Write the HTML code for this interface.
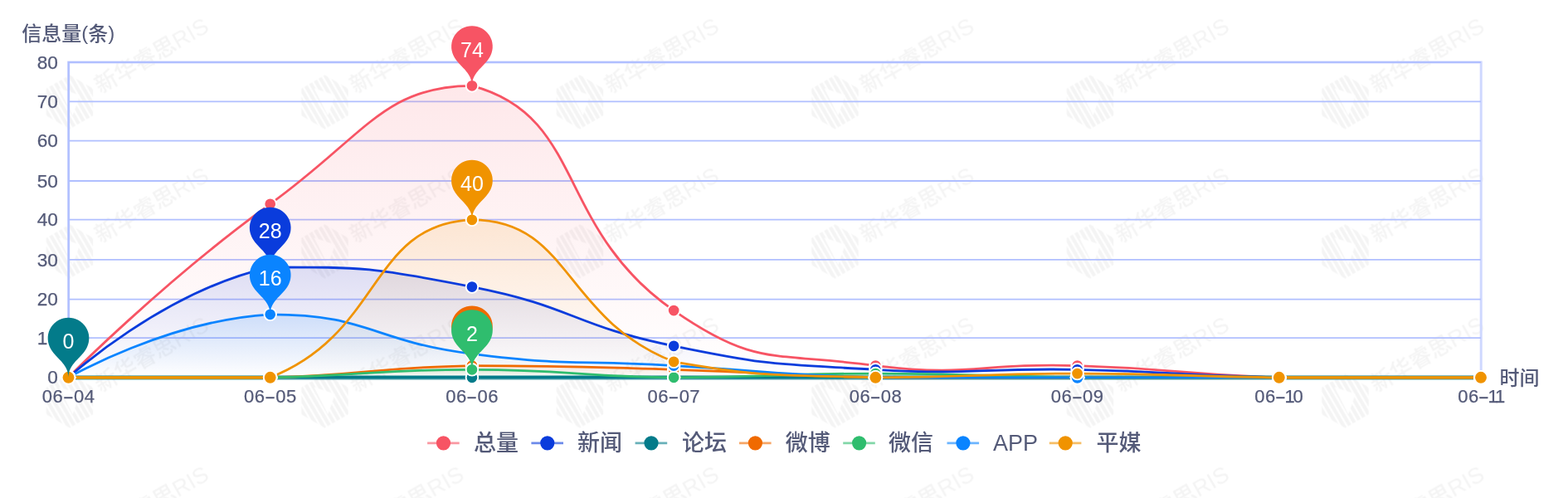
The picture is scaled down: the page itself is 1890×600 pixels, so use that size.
<!DOCTYPE html>
<html lang="zh-CN"><head><meta charset="utf-8"><title>信息量趋势</title>
<style>
html,body{margin:0;padding:0;background:#fff;}
body{width:1890px;height:600px;overflow:hidden;font-family:"Liberation Sans","Noto Sans CJK SC",sans-serif;}
svg{display:block;filter:blur(0.45px);}
svg text{font-family:"Liberation Sans","Noto Sans CJK SC",sans-serif;}
</style></head><body>
<svg width="1890" height="600" viewBox="0 0 1890 600">
<defs>
<linearGradient id="g0" x1="0" y1="0" x2="0" y2="1"><stop offset="0" stop-color="#f75464" stop-opacity="0.135"/><stop offset="1" stop-color="#f75464" stop-opacity="0"/></linearGradient>
<linearGradient id="g1" x1="0" y1="0" x2="0" y2="1"><stop offset="0" stop-color="#0a3cdc" stop-opacity="0.135"/><stop offset="1" stop-color="#0a3cdc" stop-opacity="0"/></linearGradient>
<linearGradient id="g2" x1="0" y1="0" x2="0" y2="1"><stop offset="0" stop-color="#037b8a" stop-opacity="0.135"/><stop offset="1" stop-color="#037b8a" stop-opacity="0"/></linearGradient>
<linearGradient id="g3" x1="0" y1="0" x2="0" y2="1"><stop offset="0" stop-color="#f06a00" stop-opacity="0.135"/><stop offset="1" stop-color="#f06a00" stop-opacity="0"/></linearGradient>
<linearGradient id="g4" x1="0" y1="0" x2="0" y2="1"><stop offset="0" stop-color="#2fbd6e" stop-opacity="0.135"/><stop offset="1" stop-color="#2fbd6e" stop-opacity="0"/></linearGradient>
<linearGradient id="g5" x1="0" y1="0" x2="0" y2="1"><stop offset="0" stop-color="#0a84ff" stop-opacity="0.135"/><stop offset="1" stop-color="#0a84ff" stop-opacity="0"/></linearGradient>
<linearGradient id="g6" x1="0" y1="0" x2="0" y2="1"><stop offset="0" stop-color="#f09300" stop-opacity="0.135"/><stop offset="1" stop-color="#f09300" stop-opacity="0"/></linearGradient>
<clipPath id="hx"><path clip-rule="evenodd" d="M32.5 0 L16.25 28.15 L-16.25 28.15 L-32.5 0 L-16.25 -28.15 L16.25 -28.15 Z M-3 -21 L15 -1 L-5 16 Z"/></clipPath>
<pattern id="wm" x="0.4" y="-7.5" width="307.5" height="180" patternUnits="userSpaceOnUse">
<g transform="translate(83.6,130.5) rotate(-30)" fill="#000" fill-opacity="0.043">
<g clip-path="url(#hx)">
<rect x="-32" y="-34" width="4.2" height="68"/>
<rect x="-25.4" y="-34" width="4.2" height="68"/>
<rect x="-18.8" y="-34" width="4.2" height="68"/>
<rect x="-12.2" y="-34" width="4.2" height="68"/>
<rect x="-5.6" y="-34" width="4.2" height="68"/>
<rect x="1" y="-34" width="4.2" height="68"/>
<rect x="7.6" y="-34" width="4.2" height="68"/>
<rect x="14.2" y="-34" width="4.2" height="68"/>
<rect x="20.8" y="-34" width="4.2" height="68"/>
<rect x="27.4" y="-34" width="4.2" height="68"/>
</g>
<text x="37" y="10" font-size="27" font-weight="500" textLength="153" lengthAdjust="spacingAndGlyphs">新华睿思RIS</text>
</g></pattern>
</defs>
<rect width="1890" height="600" fill="#fff"/>
<rect width="1890" height="600" fill="url(#wm)"/>
<rect x="82.7" y="75" width="1702.5" height="379.5" fill="none" stroke="#cfd8ff" stroke-width="3"/>
<g fill="none" stroke="#b0bfff" stroke-width="1.8">
<line x1="82.5" y1="407.2" x2="1785" y2="407.2"/>
<line x1="82.5" y1="360.6" x2="1785" y2="360.6"/>
<line x1="82.5" y1="312.8" x2="1785" y2="312.8"/>
<line x1="82.5" y1="264.6" x2="1785" y2="264.6"/>
<line x1="82.5" y1="218" x2="1785" y2="218"/>
<line x1="82.5" y1="169.6" x2="1785" y2="169.6"/>
<line x1="82.5" y1="122.3" x2="1785" y2="122.3"/>
<line x1="82.5" y1="75" x2="1785" y2="75"/>
</g>
<line x1="82.7" y1="74" x2="82.7" y2="455" stroke="#b0bfff" stroke-width="2.2"/>
<g fill="#545a78" font-size="22.3" stroke="#545a78" stroke-width="0.25">
<text x="57.3" y="462.3" textLength="12.6" lengthAdjust="spacingAndGlyphs">0</text>
<text x="44.7" y="415" textLength="25.2" lengthAdjust="spacingAndGlyphs">10</text>
<text x="44.7" y="368.4" textLength="25.2" lengthAdjust="spacingAndGlyphs">20</text>
<text x="44.7" y="320.6" textLength="25.2" lengthAdjust="spacingAndGlyphs">30</text>
<text x="44.7" y="272.4" textLength="25.2" lengthAdjust="spacingAndGlyphs">40</text>
<text x="44.7" y="225.8" textLength="25.2" lengthAdjust="spacingAndGlyphs">50</text>
<text x="44.7" y="177.4" textLength="25.2" lengthAdjust="spacingAndGlyphs">60</text>
<text x="44.7" y="130.1" textLength="25.2" lengthAdjust="spacingAndGlyphs">70</text>
<text x="44.7" y="82.8" textLength="25.2" lengthAdjust="spacingAndGlyphs">80</text>
</g>
<g fill="#545a78" font-size="22" letter-spacing="0.5" stroke="#545a78" stroke-width="0.25">
<text y="484.5"><tspan x="50.8">06</tspan><tspan x="75.7" textLength="14.1" lengthAdjust="spacingAndGlyphs">-</tspan><tspan x="89">04</tspan></text>
<text y="484.5"><tspan x="294.01">06</tspan><tspan x="318.91" textLength="14.1" lengthAdjust="spacingAndGlyphs">-</tspan><tspan x="332.21">05</tspan></text>
<text y="484.5"><tspan x="537.23">06</tspan><tspan x="562.13" textLength="14.1" lengthAdjust="spacingAndGlyphs">-</tspan><tspan x="575.43">06</tspan></text>
<text y="484.5"><tspan x="780.44">06</tspan><tspan x="805.34" textLength="14.1" lengthAdjust="spacingAndGlyphs">-</tspan><tspan x="818.64">07</tspan></text>
<text y="484.5"><tspan x="1023.66">06</tspan><tspan x="1048.56" textLength="14.1" lengthAdjust="spacingAndGlyphs">-</tspan><tspan x="1061.86">08</tspan></text>
<text y="484.5"><tspan x="1266.87">06</tspan><tspan x="1291.77" textLength="14.1" lengthAdjust="spacingAndGlyphs">-</tspan><tspan x="1305.07">09</tspan></text>
<text y="484.5"><tspan x="1512.19">06</tspan><tspan x="1536.84" textLength="14.1" lengthAdjust="spacingAndGlyphs">-</tspan><tspan x="1548.59">1</tspan><tspan x="1558.59">0</tspan></text>
<text y="484.5"><tspan x="1757.2">06</tspan><tspan x="1781.85" textLength="14.1" lengthAdjust="spacingAndGlyphs">-</tspan><tspan x="1793.6">1</tspan><tspan x="1802.1">1</tspan></text>
</g>
<g fill="#545a78" font-size="24" font-weight="500">
<text x="26.2" y="49">信息量<tspan dy="-1.5">(</tspan><tspan dy="1.5">条</tspan><tspan dy="-1.5">)</tspan></text>
<text x="1807.5" y="464">时间</text>
</g>
<path d="M82.5 454.8C82.5 454.8 196.28 339.33 325.71 245.8C439.49 163.58 462.77 103.3 568.93 103.3C705.99 139.44 668.47 274.44 812.14 374.05C911.68 443.06 931.56 423.63 1055.36 440.55C1174.77 454.8 1177.07 436.99 1298.57 440.55C1420.28 444.12 1420.07 451.23 1541.79 454.8C1663.29 454.8 1785 454.8 1785 454.8L1785 454.8 L82.5 454.8 Z" fill="url(#g0)"/>
<path d="M82.5 454.8C82.5 454.8 196.45 350.83 325.71 321.8C439.67 321.8 449.54 322.23 568.93 345.55C692.75 369.73 688.45 391.43 812.14 416.8C931.66 441.31 933.34 438.15 1055.36 445.3C1176.55 452.4 1177.01 442.93 1298.57 445.3C1420.22 447.68 1420.13 452.42 1541.79 454.8C1663.35 454.8 1785 454.8 1785 454.8L1785 454.8 L82.5 454.8 Z" fill="url(#g1)"/>
<path d="M82.5 454.8C82.5 454.8 204.21 454.8 325.71 454.8C447.43 451.23 447.23 442.93 568.93 440.55C690.44 440.55 690.57 441.74 812.14 445.3C933.78 448.86 933.7 452.42 1055.36 454.8C1176.92 454.8 1176.96 454.8 1298.57 454.8C1420.18 454.8 1420.18 454.8 1541.79 454.8C1663.39 454.8 1785 454.8 1785 454.8L1785 454.8 L82.5 454.8 Z" fill="url(#g3)"/>
<path d="M82.5 454.8C82.5 454.8 204.15 454.8 325.71 454.8C447.37 452.42 447.32 445.3 568.93 445.3C690.54 445.3 690.5 453.61 812.14 454.8C933.72 454.8 933.75 450.05 1055.36 450.05C1176.96 450.05 1176.95 453.61 1298.57 454.8C1420.17 454.8 1420.18 454.8 1541.79 454.8C1663.39 454.8 1785 454.8 1785 454.8L1785 454.8 L82.5 454.8 Z" fill="url(#g4)"/>
<path d="M82.5 454.8C82.5 454.8 202.41 386.02 325.71 378.8C445.63 378.8 446.29 410.73 568.93 426.3C689.5 441.61 690.54 433.43 812.14 440.55C933.75 447.68 933.65 451.23 1055.36 454.8C1176.86 454.8 1176.96 454.8 1298.57 454.8C1420.18 454.8 1420.18 454.8 1541.79 454.8C1663.39 454.8 1785 454.8 1785 454.8L1785 454.8 L82.5 454.8 Z" fill="url(#g5)"/>
<path d="M82.5 454.8C82.5 454.8 218.52 454.8 325.71 454.8C461.74 401.67 445.05 269.64 568.93 264.8C688.26 264.8 678.55 383.62 812.14 435.8C921.76 454.8 933.58 451.23 1055.36 454.8C1176.79 454.8 1176.96 450.05 1298.57 450.05C1420.18 450.05 1420.17 453.61 1541.79 454.8C1663.38 454.8 1785 454.8 1785 454.8L1785 454.8 L82.5 454.8 Z" fill="url(#g6)"/>
<path d="M82.5 454.8C82.5 454.8 196.28 339.33 325.71 245.8C439.49 163.58 462.77 103.3 568.93 103.3C705.99 139.44 668.47 274.44 812.14 374.05C911.68 443.06 931.56 423.63 1055.36 440.55C1174.77 454.8 1177.07 436.99 1298.57 440.55C1420.28 444.12 1420.07 451.23 1541.79 454.8C1663.29 454.8 1785 454.8 1785 454.8" fill="none" stroke="#f75464" stroke-width="2.8" stroke-linejoin="round"/>
<path d="M82.5 454.8C82.5 454.8 196.45 350.83 325.71 321.8C439.67 321.8 449.54 322.23 568.93 345.55C692.75 369.73 688.45 391.43 812.14 416.8C931.66 441.31 933.34 438.15 1055.36 445.3C1176.55 452.4 1177.01 442.93 1298.57 445.3C1420.22 447.68 1420.13 452.42 1541.79 454.8C1663.35 454.8 1785 454.8 1785 454.8" fill="none" stroke="#0a3cdc" stroke-width="2.8" stroke-linejoin="round"/>
<path d="M82.5 454.8C82.5 454.8 204.11 454.8 325.71 454.8C447.32 454.8 447.32 454.8 568.93 454.8C690.54 454.8 690.54 454.8 812.14 454.8C933.75 454.8 933.75 454.8 1055.36 454.8C1176.96 454.8 1176.96 454.8 1298.57 454.8C1420.18 454.8 1420.18 454.8 1541.79 454.8C1663.39 454.8 1785 454.8 1785 454.8" fill="none" stroke="#037b8a" stroke-width="5.8" stroke-opacity="0.5"/>
<path d="M82.5 454.8C82.5 454.8 204.11 454.8 325.71 454.8C447.32 454.8 447.32 454.8 568.93 454.8C690.54 454.8 690.54 454.8 812.14 454.8C933.75 454.8 933.75 454.8 1055.36 454.8C1176.96 454.8 1176.96 454.8 1298.57 454.8C1420.18 454.8 1420.18 454.8 1541.79 454.8C1663.39 454.8 1785 454.8 1785 454.8" fill="none" stroke="#037b8a" stroke-width="3.4" stroke-linejoin="round"/>
<path d="M82.5 454.8C82.5 454.8 204.21 454.8 325.71 454.8C447.43 451.23 447.23 442.93 568.93 440.55C690.44 440.55 690.57 441.74 812.14 445.3C933.78 448.86 933.7 452.42 1055.36 454.8C1176.92 454.8 1176.96 454.8 1298.57 454.8C1420.18 454.8 1420.18 454.8 1541.79 454.8C1663.39 454.8 1785 454.8 1785 454.8" fill="none" stroke="#f06a00" stroke-width="2.8" stroke-linejoin="round"/>
<path d="M82.5 454.8C82.5 454.8 204.15 454.8 325.71 454.8C447.37 452.42 447.32 445.3 568.93 445.3C690.54 445.3 690.5 453.61 812.14 454.8C933.72 454.8 933.75 450.05 1055.36 450.05C1176.96 450.05 1176.95 453.61 1298.57 454.8C1420.17 454.8 1420.18 454.8 1541.79 454.8C1663.39 454.8 1785 454.8 1785 454.8" fill="none" stroke="#2fbd6e" stroke-width="2.8" stroke-linejoin="round"/>
<path d="M82.5 454.8C82.5 454.8 202.41 386.02 325.71 378.8C445.63 378.8 446.29 410.73 568.93 426.3C689.5 441.61 690.54 433.43 812.14 440.55C933.75 447.68 933.65 451.23 1055.36 454.8C1176.86 454.8 1176.96 454.8 1298.57 454.8C1420.18 454.8 1420.18 454.8 1541.79 454.8C1663.39 454.8 1785 454.8 1785 454.8" fill="none" stroke="#0a84ff" stroke-width="2.8" stroke-linejoin="round"/>
<path d="M82.5 454.8C82.5 454.8 218.52 454.8 325.71 454.8C461.74 401.67 445.05 269.64 568.93 264.8C688.26 264.8 678.55 383.62 812.14 435.8C921.76 454.8 933.58 451.23 1055.36 454.8C1176.79 454.8 1176.96 450.05 1298.57 450.05C1420.18 450.05 1420.17 453.61 1541.79 454.8C1663.38 454.8 1785 454.8 1785 454.8" fill="none" stroke="#f09300" stroke-width="2.8" stroke-linejoin="round"/>
<path d="M82.5 454.8H325.71 M1541.79 454.8H1785" fill="none" stroke="#f09300" stroke-width="3.3"/>
<g fill="#f75464" stroke="#fff" stroke-width="1.9">
<circle cx="82.5" cy="454.8" r="7.9"/>
<circle cx="325.71" cy="245.8" r="7.3"/>
<circle cx="568.93" cy="103.3" r="7.3"/>
<circle cx="812.14" cy="374.05" r="7.3"/>
<circle cx="1055.36" cy="440.55" r="7.3"/>
<circle cx="1298.57" cy="440.55" r="7.3"/>
<circle cx="1541.79" cy="454.8" r="7.9"/>
<circle cx="1785" cy="454.8" r="7.9"/>
</g>
<g fill="#0a3cdc" stroke="#fff" stroke-width="1.9">
<circle cx="82.5" cy="454.8" r="7.9"/>
<circle cx="325.71" cy="321.8" r="7.3"/>
<circle cx="568.93" cy="345.55" r="7.3"/>
<circle cx="812.14" cy="416.8" r="7.3"/>
<circle cx="1055.36" cy="445.3" r="7.3"/>
<circle cx="1298.57" cy="445.3" r="7.3"/>
<circle cx="1541.79" cy="454.8" r="7.9"/>
<circle cx="1785" cy="454.8" r="7.9"/>
</g>
<g fill="#037b8a" stroke="#fff" stroke-width="1.9">
<circle cx="82.5" cy="454.8" r="7.9"/>
<circle cx="325.71" cy="454.8" r="7.9"/>
<circle cx="568.93" cy="454.8" r="7.3"/>
<circle cx="812.14" cy="454.8" r="7.3"/>
<circle cx="1055.36" cy="454.8" r="7.9"/>
<circle cx="1298.57" cy="454.8" r="7.9"/>
<circle cx="1541.79" cy="454.8" r="7.9"/>
<circle cx="1785" cy="454.8" r="7.9"/>
</g>
<g fill="#f06a00" stroke="#fff" stroke-width="1.9">
<circle cx="82.5" cy="454.8" r="7.9"/>
<circle cx="325.71" cy="454.8" r="7.9"/>
<circle cx="568.93" cy="440.55" r="7.3"/>
<circle cx="812.14" cy="445.3" r="7.3"/>
<circle cx="1055.36" cy="454.8" r="7.9"/>
<circle cx="1298.57" cy="454.8" r="7.9"/>
<circle cx="1541.79" cy="454.8" r="7.9"/>
<circle cx="1785" cy="454.8" r="7.9"/>
</g>
<g fill="#2fbd6e" stroke="#fff" stroke-width="1.9">
<circle cx="82.5" cy="454.8" r="7.9"/>
<circle cx="325.71" cy="454.8" r="7.9"/>
<circle cx="568.93" cy="445.3" r="7.3"/>
<circle cx="812.14" cy="454.8" r="7.3"/>
<circle cx="1055.36" cy="450.05" r="7.3"/>
<circle cx="1298.57" cy="454.8" r="7.9"/>
<circle cx="1541.79" cy="454.8" r="7.9"/>
<circle cx="1785" cy="454.8" r="7.9"/>
</g>
<g fill="#0a84ff" stroke="#fff" stroke-width="1.9">
<circle cx="82.5" cy="454.8" r="7.9"/>
<circle cx="325.71" cy="378.8" r="7.3"/>
<circle cx="568.93" cy="426.3" r="7.3"/>
<circle cx="812.14" cy="440.55" r="7.3"/>
<circle cx="1055.36" cy="454.8" r="7.9"/>
<circle cx="1298.57" cy="454.8" r="7.9"/>
<circle cx="1541.79" cy="454.8" r="7.9"/>
<circle cx="1785" cy="454.8" r="7.9"/>
</g>
<g fill="#f09300" stroke="#fff" stroke-width="1.9">
<circle cx="82.5" cy="454.8" r="7.9"/>
<circle cx="325.71" cy="454.8" r="7.9"/>
<circle cx="568.93" cy="264.8" r="7.3"/>
<circle cx="812.14" cy="435.8" r="7.3"/>
<circle cx="1055.36" cy="454.8" r="7.9"/>
<circle cx="1298.57" cy="450.05" r="7.3"/>
<circle cx="1541.79" cy="454.8" r="7.9"/>
<circle cx="1785" cy="454.8" r="7.9"/>
</g>
<path d="M546.49 66.63A24.84 24.84 0 1 1 591.37 66.63C584.98 80.1 568.93 85.91 568.93 103.3C568.93 85.91 552.87 80.1 546.49 66.63Z" fill="#f75464"/>
<text x="568.93" y="68.71" text-anchor="middle" font-size="25" fill="#fff">74</text>
<path d="M303.27 285.13A24.84 24.84 0 1 1 348.16 285.13C341.77 298.6 325.71 304.41 325.71 321.8C325.71 304.41 309.66 298.6 303.27 285.13Z" fill="#0a3cdc"/>
<text x="325.71" y="287.21" text-anchor="middle" font-size="25" fill="#fff">28</text>
<path d="M60.06 418.13A24.84 24.84 0 1 1 104.94 418.13C98.56 431.6 82.5 437.41 82.5 454.8C82.5 437.41 66.44 431.6 60.06 418.13Z" fill="#037b8a"/>
<text x="82.5" y="420.21" text-anchor="middle" font-size="25" fill="#fff">0</text>
<path d="M546.49 403.88A24.84 24.84 0 1 1 591.37 403.88C584.98 417.35 568.93 423.16 568.93 440.55C568.93 423.16 552.87 417.35 546.49 403.88Z" fill="#f06a00"/>
<text x="568.93" y="405.96" text-anchor="middle" font-size="25" fill="#fff">3</text>
<path d="M546.49 408.63A24.84 24.84 0 1 1 591.37 408.63C584.98 422.1 568.93 427.91 568.93 445.3C568.93 427.91 552.87 422.1 546.49 408.63Z" fill="#2fbd6e"/>
<text x="568.93" y="410.71" text-anchor="middle" font-size="25" fill="#fff">2</text>
<path d="M303.27 342.13A24.84 24.84 0 1 1 348.16 342.13C341.77 355.6 325.71 361.41 325.71 378.8C325.71 361.41 309.66 355.6 303.27 342.13Z" fill="#0a84ff"/>
<text x="325.71" y="344.21" text-anchor="middle" font-size="25" fill="#fff">16</text>
<path d="M546.49 228.13A24.84 24.84 0 1 1 591.37 228.13C584.98 241.6 568.93 247.41 568.93 264.8C568.93 247.41 552.87 241.6 546.49 228.13Z" fill="#f09300"/>
<text x="568.93" y="230.21" text-anchor="middle" font-size="25" fill="#fff">40</text>
<line x1="515.1" y1="533.8" x2="553.7" y2="533.8" stroke="#f75464" stroke-width="2.7" stroke-opacity="0.6"/>
<circle cx="534.5" cy="533.8" r="8.6" fill="#f75464"/>
<text x="571" y="543.4" font-size="27" font-weight="500" fill="#545a78">总量</text>
<line x1="640.4" y1="533.8" x2="679" y2="533.8" stroke="#0a3cdc" stroke-width="2.7" stroke-opacity="0.6"/>
<circle cx="659.8" cy="533.8" r="8.6" fill="#0a3cdc"/>
<text x="696" y="543.4" font-size="27" font-weight="500" fill="#545a78">新闻</text>
<line x1="765.6" y1="533.8" x2="804.2" y2="533.8" stroke="#037b8a" stroke-width="2.7" stroke-opacity="0.6"/>
<circle cx="785" cy="533.8" r="8.6" fill="#037b8a"/>
<text x="822" y="543.4" font-size="27" font-weight="500" fill="#545a78">论坛</text>
<line x1="891" y1="533.8" x2="929.6" y2="533.8" stroke="#f06a00" stroke-width="2.7" stroke-opacity="0.6"/>
<circle cx="910.4" cy="533.8" r="8.6" fill="#f06a00"/>
<text x="946.8" y="543.4" font-size="27" font-weight="500" fill="#545a78">微博</text>
<line x1="1016.2" y1="533.8" x2="1054.8" y2="533.8" stroke="#2fbd6e" stroke-width="2.7" stroke-opacity="0.6"/>
<circle cx="1035.6" cy="533.8" r="8.6" fill="#2fbd6e"/>
<text x="1071" y="543.4" font-size="27" font-weight="500" fill="#545a78">微信</text>
<line x1="1141.5" y1="533.8" x2="1180.1" y2="533.8" stroke="#0a84ff" stroke-width="2.7" stroke-opacity="0.6"/>
<circle cx="1160.9" cy="533.8" r="8.6" fill="#0a84ff"/>
<text x="1197" y="543.4" font-size="27" font-weight="500" fill="#545a78">APP</text>
<line x1="1264.8" y1="533.8" x2="1303.4" y2="533.8" stroke="#f09300" stroke-width="2.7" stroke-opacity="0.6"/>
<circle cx="1284.2" cy="533.8" r="8.6" fill="#f09300"/>
<text x="1321.5" y="543.4" font-size="27" font-weight="500" fill="#545a78">平媒</text>
</svg>
</body></html>
